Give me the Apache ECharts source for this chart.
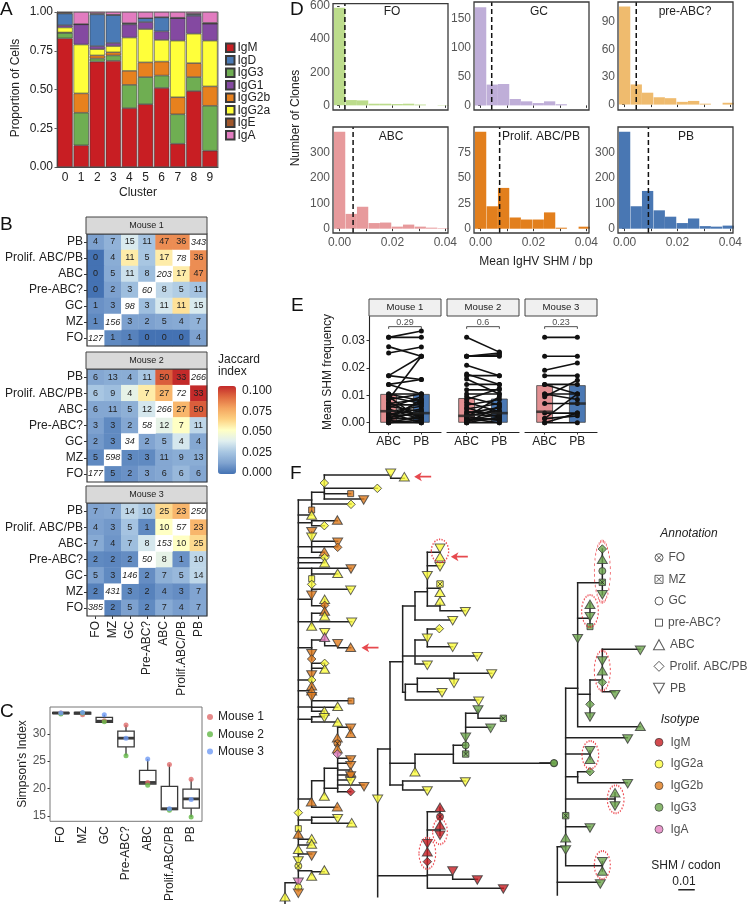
<!DOCTYPE html>
<html>
<head>
<meta charset="utf-8">
<style>html,body{margin:0;padding:0;background:#fff}#chart{width:748px;height:904px}</style>
<script src="https://cdn.jsdelivr.net/npm/echarts@6/dist/echarts.min.js"></script>
</head>
<body>
<div id="chart"></div>
<script>
// ---- panel A
const clusters = ["0","1","2","3","4","5","6","7","8","9"];
const stackOrder = ["IgM","IgG3","IgG2b","IgG2a","IgG1","IgD","IgE","IgA"];
const legendOrder = ["IgM","IgD","IgG3","IgG1","IgG2b","IgG2a","IgE","IgA"];
const igM   = [.83,.14,.68,.685,.38,.405,.51,.15,.49,.105];
const igG3  = [.035,.21,.02,.035,.15,.175,.08,.19,.09,.29];
const igG2b = [.003,.125,.02,.02,.09,.095,.09,.11,.09,.125];
const igG2a = [.032,.315,.04,.04,.215,.215,.14,.365,.19,.295];
const igG1  = [.015,.13,.02,.02,.085,.045,.055,.145,.115,.11];
const igD   = [.075,0,.205,.18,.005,.025,.09,0,.01,0];
const igE   = [.005,.002,.005,.002,.003,0,.002,.003,.003,.005];
const igA   = [.005,.078,.01,.018,.072,.04,.033,.037,.012,.07];

// ---- panel B, rows run PB -> FO, columns FO -> PB
const cellTypes = ["FO","MZ","GC","Pre-ABC?","ABC","Prolif. ABC/PB","PB"];
const cellTypesX = ["FO","MZ","GC","Pre-ABC?","ABC","Prolif.ABC/PB","PB"];
const counts1 = [[4,7,15,11,47,36,343],[0,4,11,5,17,78,36],[0,5,11,8,203,17,47],[0,2,3,60,8,5,11],[1,3,98,3,11,11,15],[1,156,3,2,5,4,7],[127,1,1,0,0,0,4]];
const counts2 = [[6,13,4,11,50,33,266],[6,9,4,7,27,72,33],[6,11,5,12,266,27,50],[3,3,2,58,12,7,11],[2,3,34,2,5,4,4],[5,598,3,3,11,9,13],[177,5,2,3,6,6,6]];
const counts3 = [[7,7,14,10,25,23,250],[4,3,5,1,10,57,23],[7,4,7,8,153,10,25],[2,2,2,50,8,1,10],[5,3,146,2,7,5,14],[2,431,3,2,4,3,7],[385,2,5,2,7,4,7]];
const jaccard1 = [[.012,.018,.036,.024,.08,.08,0],[0,.016,.055,.025,.055,0,.08],[0,.015,.033,.022,0,.055,.08],[0,.012,.022,0,.03,.027,.024],[.008,.01,0,.022,.035,.058,.036],[.006,0,.012,.012,.014,.015,.018],[0,.006,.004,0,0,0,.012]];
const jaccard2 = [[.014,.016,.016,.025,.09,.1,0],[.025,.022,.04,.055,.07,0,.1],[.014,.014,.017,.035,0,.07,.09],[.012,.006,.014,0,.04,.05,.03],[.01,.006,0,.013,.018,.035,.014],[.006,0,.006,.006,.014,.016,.016],[0,.006,.008,.012,.014,.02,.014]];
const jaccard3 = [[.013,.014,.03,.026,.06,.07,0],[.012,.01,.024,.006,.05,0,.07],[.015,.009,.022,.035,0,.05,.06],[.006,.005,.007,0,.04,.008,.03],[.012,.006,0,.007,.017,.02,.03],[.004,0,.006,.004,.009,.007,.013],[0,.004,.012,.006,.015,.011,.014]];

// ---- panel C: index, min, q1, median, q3, max
const simpsonBoxes = [[0,33.6,33.7,33.8,33.9,33.9],[1,33.5,33.6,33.8,33.9,33.9],[2,32.1,32.1,32.3,33,33.5],[3,26.05,27.6,29.2,30.5,31.6],[4,20.65,20.8,21.1,23.3,25.4],[5,16,16.15,16.3,20.4,24.4],[6,14.8,16.4,18.1,19.9,21.7]];
const simpsonMouse1 = [33.8,33.5,32.4,31.6,21.1,24.4,21.7];
const simpsonMouse2 = [33.6,33.8,32.2,26,20.6,16,14.8];
const simpsonMouse3 = [33.8,33.9,33.5,29.2,25.4,16.3,18];

// ---- panel D
const binCenters = [0,.0044,.0087,.0131,.0174,.0218,.0261,.0305,.0348,.0392];
const clonesFO = [590,32,30,10,10,8,10,5,0,2];
const clonesGC = [170,36,37,11,7,4,7,2,0,0];
const clonesPreABC = [107,22,13,8,7,3,4,1,0,2];
const clonesABC = [380,58,86,22,24,8,16,8,4,2];
const clonesProlif = [95,22,40,11,9,9,16,1,0,2];
const clonesPB = [380,88,148,72,47,22,40,10,8,12];

// ---- panel E: pairs of [ABC, PB]
const pairsMouse1 = [[.0312,.0335],[.0312,.0312],[.0278,.0243],[.0255,.0277],[.0172,.0243],[.0172,.0158],[.014,.0158],[.014,.0105],[.0085,.0243],[.0105,.0105],[.0095,.007],[.0085,.0105],[.0075,.002],[.007,.0085],[.006,.004],[.0055,.0095],[.0045,.003],[.004,.006],[.0035,0],[.003,.005],[.0025,.0075],[.002,.0035],[.0015,.0015],[.001,.0045],[.0008,0],[0,.0025],[0,0],[0,.001],[.0105,.008],[.0065,.0065],[.005,.0012],[.0028,.0028],[.0012,.0085],[.0095,.001]];
const pairsMouse2 = [[.0312,.0258],[.0243,.0243],[.0243,.0255],[.0243,.0248],[.021,.0172],[.0178,.014],[.0172,.0172],[.016,.0105],[.014,.014],[.012,.012],[.0105,.0105],[.0095,.0065],[.0085,.0125],[.0075,.004],[.0065,.0085],[.0055,.002],[.005,.007],[.004,.0035],[.0035,.0055],[.0025,.0045],[.002,.0095],[.0015,0],[.001,.003],[0,.002],[0,0],[0,.006],[.0012,.0012],[.0022,.0008],[.0008,.0018],[.003,.0025]];
const pairsMouse3 = [[.0312,.0312],[.0243,.0243],[.0192,.0218],[.0172,.0172],[.014,.0105],[.014,.014],[.0105,.0105],[.0105,.0085],[.0095,.0155],[.007,.007],[.0035,.0035],[.0015,.0105],[0,.0035],[0,0],[.0015,.0025]];
const boxTops = [[.0105,.0105],[.009,.0088],[.0137,.0137]];
const boxMedians = [[.0042,.0035],[.0025,.0035],[.004,.007]];
const pValues = ["0.29","0.6","0.23"];

// ---- panel F, tree 1 in units of the left crop
const treeEdges1 = [
  [[85,60],[85,1232]],[[85,60],[125,60]],[[163,-15],[362,-15],[362,-5],[403,-5]],[[163,-15],[163,57]],[[125,37],[125,95]],[[125,37],[163,37]],
  [[125,72],[243,72]],[[163,25],[322,25]],[[163,41],[242,41]],[[163,57],[281,57]],[[85,105],[125,105]],[[85,128],[125,128]],
  [[125,122],[202,122]],[[125,122],[125,137],[163,137]],[[85,200],[125,200]],[[125,155],[125,217]],[[125,184],[203,184]],[[125,200],[203,200]],
  [[125,217],[163,217]],[[85,233],[164,233]],[[85,248],[164,248]],[[85,265],[243,265]],[[125,265],[125,345]],[[125,282],[203,282]],[[125,328],[242,328]],
  [[85,358],[125,358]],[[125,346],[125,377],[164,377]],[[164,358],[164,408]],[[85,425],[245,425]],[[125,400],[164,400]],[[125,400],[125,437]],
  [[85,503],[125,503]],[[125,480],[125,540]],[[125,480],[163,480]],[[164,458],[164,497],[203,497],[203,503],[242,503]],
  [[125,550],[164,550]],[[125,565],[164,565]],[[125,550],[125,650]],[[85,600],[125,600]],[[85,632],[125,632]],
  [[85,681],[125,681]],[[125,650],[125,694]],[[125,662],[243,662]],[[125,682],[203,682]],[[125,694],[163,694]],[[163,693],[163,713]],
  [[85,718],[125,718]],[[125,710],[125,726]],[[125,710],[163,710]],[[125,726],[203,726]],
  [[85,957],[125,957]],[[125,902],[125,982],[203,982]],[[125,902],[163,902]],[[163,865],[163,945]],[[163,865],[203,865]],[[203,742],[203,935]],
  [[203,742],[242,742],[242,760]],[[203,835],[242,835]],[[203,850],[242,850]],[[203,870],[242,870]],[[203,885],[242,885]],[[203,900],[242,900]],
  [[163,925],[203,925]],[[203,915],[282,915]],[[203,935],[242,935]],
  [[85,1020],[125,1020]],[[125,1012],[125,1030]],[[125,1012],[203,1012]],[[125,1030],[245,1030]],[[85,1078],[125,1078]],[[85,1095],[125,1095]],
  [[85,1122],[125,1122]],[[85,1172],[125,1172],[125,1185]],[[125,1175],[163,1175]],[[85,1208],[45,1208],[45,1272]]
];
const treeNodes1 = [
  [362,-20,"PB","Y"],[403,-10,"ABC","Y"],[163,9,"PRO","Y"],[322,25,"PRO","Y"],[242,41,"PRE","O"],[281,60,"PB","O"],[243,73,"PRO","Y"],[125,90,"PRE","O"],[125,105,"ABC","Y"],
  [202,120,"ABC","O"],[163,137,"PRO","Y"],[125,155,"PB","O"],[125,172,"PB","Y"],[203,187,"PB","O"],[203,202,"PRO","O"],[163,215,"ABC","O"],[164,233,"PRO","Y"],[164,248,"ABC","Y"],
  [243,267,"PB","O"],[203,280,"ABC","Y"],[125,296,"PRE","Y"],[125,313,"PRO","Y"],[242,331,"PB","Y"],[125,346,"PB","O"],[164,358,"ABC","Y"],[164,376,"PRO","O"],[164,393,"ABC","O"],[164,408,"ABC","Y"],
  [245,427,"PB","Y"],[125,438,"ABC","Y"],[164,458,"PB","Y"],[164,472,"ABC","P"],[203,491,"PB","O"],[242,502,"ABC","O"],[125,521,"PB","O"],[125,537,"PRO","O"],[164,550,"PRO","Y"],[164,567,"ABC","Y"],
  [125,585,"PB","O"],[125,600,"PRO","Y"],[125,617,"ABC","O"],[125,632,"ABC","O"],[125,650,"PB","O"],[243,663,"PRE","O"],[203,679,"ABC","Y"],[163,693,"ABC","Y"],[163,713,"PB","Y"],[203,726,"ABC","Y"],
  [242,745,"PB","O"],[242,760,"ABC","O"],[202,773,"ABC","O"],[202,790,"FO","O"],[202,806,"ABC","O"],[202,822,"PRO","P"],[242,840,"PB","O"],[242,857,"PB","O"],[242,877,"ABC","O"],[242,888,"PB","O"],[242,905,"PB","Y"],
  [282,920,"PB","O"],[242,935,"PRO","R"],[163,948,"ABC","Y"],[124,965,"ABC","O"],[202,980,"ABC","O"],[85,998,"PRO","Y"],[203,1016,"PB","Y"],[245,1028,"ABC","Y"],[85,1046,"PRE","Y"],[85,1062,"ABC","O"],
  [125,1076,"ABC","Y"],[125,1092,"ABC","Y"],[85,1108,"ABC","Y"],[125,1128,"PB","O"],[85,1143,"PB","Y"],[85,1158,"FO","Y"],[163,1170,"ABC","Y"],[125,1188,"ABC","Y"],[85,1207,"PB","P"],[85,1222,"GC","Y"],[85,1240,"PB","O"],[45,1250,"ABC","Y"]
];
// tree 2, units of the middle crop
const treeEdges2 = [
  [[23,687],[23,1130]],[[23,687],[60,687]],[[60,425],[60,795]],[[60,425],[98,425]],[[98,258],[98,517]],[[98,258],[135,258]],[[135,215],[135,300]],[[135,215],[172,215]],[[172,97],[172,258]],
  [[172,97],[210,97]],[[172,137],[210,137]],[[172,205],[210,205]],[[172,258],[210,258]],[[210,250],[210,272],[286,272]],[[135,300],[248,300]],
  [[98,408],[322,408]],[[135,360],[172,360]],[[135,360],[135,432],[172,432]],[[172,327],[172,380]],[[172,327],[208,327]],[[172,380],[248,380]],
  [[98,517],[106,517]],[[106,493],[106,540],[326,540]],[[106,493],[142,493]],[[142,475],[142,515],[216,515]],[[142,475],[252,475]],[[252,460],[252,490]],[[252,460],[365,460]],
  [[60,730],[135,730]],[[135,703],[135,755]],[[135,703],[250,703]],[[250,676],[250,730],[552,730]],[[250,676],[287,676]],[[287,580],[287,700]],[[287,580],[324,580]],[[287,622],[362,622]],[[324,570],[324,595],[400,595]],
  [[60,795],[98,795]],[[98,783],[98,810],[172,810]],[[98,783],[286,783]],
  [[23,1067],[172,1067]],[[172,875],[172,1105],[400,1105]],[[172,875],[210,875]],[[210,862],[210,946]],[[172,930],[210,930]],[[172,1065],[248,1065],[248,1078],[322,1078]]
];
const treeNodes2 = [
  [210,85,"PB","Y"],[210,110,"ABC","Y"],[210,140,"PB","Y"],[172,167,"PB","Y"],[210,192,"MZ","Y"],[210,217,"ABC","Y"],[210,243,"ABC","Y"],[286,275,"PB","Y"],[248,302,"PB","Y"],
  [208,326,"PRO","Y"],[172,355,"PB","Y"],[248,382,"PB","Y"],[322,410,"PB","Y"],[172,436,"PB","Y"],[365,462,"PB","Y"],[252,490,"PB","Y"],[216,518,"PB","Y"],[326,544,"PB","Y"],
  [324,570,"PB","G"],[400,595,"MZ","G"],[362,625,"PB","G"],[287,652,"PB","G"],[287,676,"GC","G"],[287,702,"MZ","G"],[552,730,"GC","G"],[135,755,"ABC","Y"],[286,786,"PB","Y"],[172,813,"PB","Y"],[23,838,"PB","Y"],
  [210,862,"ABC","R"],[210,890,"FO","R"],[210,915,"ABC","R"],[210,946,"PB","R"],[172,971,"PB","R"],[172,995,"ABC","R"],[172,1025,"PRO","R"],[248,1053,"PB","R"],[322,1080,"PB","R"],[400,1107,"PB","R"]
];
// tree 3, units of the right crop
const treeEdges3 = [
  [[0,789],[42,789]],[[77,565],[77,1097],[187,1097]],[[77,565],[113,565]],[[113,248],[113,680],[300,680]],[[113,248],[187,248]],[[187,147],[187,284]],[[113,355],[150,355]],[[150,310],[150,380]],
  [[113,583],[150,583]],[[150,540],[150,650]],[[150,540],[187,540]],[[187,448],[187,575],[225,575]],[[187,448],[300,448]],
  [[77,713],[262,713]],[[77,762],[150,762]],[[150,752],[150,778]],[[77,830],[113,830]],[[113,815],[113,848],[262,848]],[[113,815],[150,815]],[[77,897],[225,897]],[[225,878],[225,918]],
  [[77,980],[150,980]],[[52,1040],[77,1040]],[[187,1085],[187,1113]],[[52,1040],[52,1185]],[[52,1147],[180,1147]],[[417,1169],[462,1169]]
];
const treeNodes3 = [
  [42,789,"GC","G"],[187,147,"PRO","G"],[187,178,"ABC","G"],[187,213,"GC","G"],[187,247,"MZ","G"],[187,284,"PB","G"],[150,313,"ABC","G"],[150,350,"PB","G"],[150,380,"PRE","G"],[113,416,"PB","G"],
  [301,451,"PB","G"],[187,483,"PB","G"],[187,512,"ABC","G"],[187,547,"PRO","G"],[225,584,"PB","G"],[150,613,"PRO","G"],[150,651,"PB","G"],[301,679,"ABC","G"],[263,717,"PB","G"],
  [150,752,"PB","G"],[150,778,"ABC","G"],[150,815,"PRO","G"],[263,851,"PB","G"],[225,878,"ABC","G"],[225,918,"PB","G"],[77,947,"MZ","G"],[150,984,"PB","G"],[77,1013,"ABC","G"],[77,1050,"PB","G"],
  [187,1085,"PB","G"],[187,1113,"ABC","G"],[181,1152,"PB","G"]
];
const ellipses2 = [[210,93,52,70],[210,935,44,76],[172,1000,50,94]];
const ellipses3 = [[187,215,48,184],[150,333,50,96],[187,512,48,120],[151,765,50,84],[227,898,50,84],[187,1095,48,84]];
const arrows1 = [[458,-10],[300,503]];
const arrows2 = [[268,110]];
const annotationKeys = [[357,173,"FO","FO"],[357,238,"MZ","MZ"],[357,303,"GC","GC"],[357,368,"PRE","pre-ABC?"],[357,434,"ABC","ABC"],[357,499,"PRO","Prolif. ABC/PB"],[357,565,"PB","PB"]];
const isotypeKeys = [[357,727,"R","IgM"],[357,792,"Y","IgG2a"],[357,857,"O","IgG2b"],[357,922,"G","IgG3"],[357,988,"P","IgA"]];

const FONT = '"Liberation Sans", Arial, sans-serif';
const INK = "#222";
const SIZE = 12;
const stackColors = { IgM:"#c81e23", IgD:"#4a7ab5", IgG3:"#6fae52", IgG1:"#8449a1", IgG2b:"#e7811e", IgG2a:"#ffff3a", IgE:"#a0562a", IgA:"#e27cc0" };
const stackValues = { IgM:igM, IgG3:igG3, IgG2b:igG2b, IgG2a:igG2a, IgG1:igG1, IgD:igD, IgE:igE, IgA:igA };
const isoColors = { R:"#c81e23", Y:"#fdfd3c", O:"#e07b1c", G:"#6da64c", P:"#e581c0", N:"#fff" };
const jaccardRamp = ["#4472b3","#7fa3d0","#a8c6e2","#e0eff0","#ffffc4","#fdd080","#f4a45f","#e06b40","#c32a2a"];

const grids = [], xAxes = [], yAxes = [], series = [], graphics = [], legends = [];

function addGrid(g, x, y) {
  grids.push(Object.assign({ containLabel:false }, g));
  const i = grids.length - 1;
  xAxes.push(Object.assign({ gridIndex:i }, x));
  yAxes.push(Object.assign({ gridIndex:i }, y));
  return i;
}
function txt(x, y, text, size, extra) {
  extra = extra || {};
  graphics.push({ type:"text", x:x, y:y, rotation:extra.rotate || 0, z:50, style:{
    text:text, fill:extra.fill || INK, font:(extra.italic ? "italic " : "") + size + "px " + FONT,
    align:extra.align || "center", verticalAlign:"middle" } });
}
function strip(x, y, w, h, text, fill, size) {
  graphics.push({ type:"rect", shape:{x:x,y:y,width:w,height:h}, z:40, style:{fill:fill, stroke:"#444", lineWidth:1} });
  txt(x + w/2, y + h/2, text, size);
}
const valueTick = { length:2.5, lineStyle:{color:"#333",width:0.8} };

// A
{
  const g = addGrid({ left:57, top:12, width:161, height:155, show:true, borderColor:"#777", borderWidth:1, backgroundColor:"transparent", z:1 },
    { type:"category", data:clusters, axisTick:Object.assign({alignWithLabel:true},valueTick), axisLine:{lineStyle:{color:"#222",width:1}},
      axisLabel:{fontFamily:FONT,fontSize:SIZE,color:INK,margin:5} },
    { type:"value", min:0, max:1, interval:.25, splitLine:{show:false}, axisTick:Object.assign({show:true},valueTick), axisLine:{show:true,lineStyle:{color:"#222",width:1}},
      axisLabel:{fontFamily:FONT,fontSize:SIZE,color:INK,margin:4,formatter:v=>v.toFixed(2)} });
  stackOrder.forEach(name => series.push({ type:"bar", name:name, stack:"a", xAxisIndex:g, yAxisIndex:g, data:stackValues[name], barWidth:15.3,
    itemStyle:{color:stackColors[name],borderColor:"#3a3a3a",borderWidth:0.6} }));
  legends.push({ data:legendOrder, orient:"vertical", left:225, top:41.5, icon:"rect", itemWidth:8.5, itemHeight:8.5, itemGap:0, padding:0, textStyle:{fontFamily:FONT,fontSize:SIZE,lineHeight:12.5,color:INK,padding:[0,0,0,-2]} });
  txt(16, 88, "Proportion of Cells", SIZE, {rotate:Math.PI/2});
  txt(138, 193, "Cluster", SIZE);
}

// B
const heatIdx = [], diagIdx = [];
[[counts1,jaccard1,"Mouse 1",217,234,112,false],[counts2,jaccard2,"Mouse 2",352,369,113,false],[counts3,jaccard3,"Mouse 3",486,503,113,true]].forEach(p => {
  const g = addGrid({ left:87, top:p[4], width:120, height:p[5], show:true, borderColor:"#333", borderWidth:1.2, backgroundColor:"transparent", z:10 },
    { type:"category", data:cellTypesX, axisLine:{show:false}, axisTick:{show:p[6],alignWithLabel:true,length:3,lineStyle:{color:"#333"}},
      axisLabel:{show:p[6],rotate:90,fontFamily:FONT,fontSize:SIZE,color:INK,margin:5,interval:0} },
    { type:"category", data:cellTypes, axisLine:{show:false}, axisTick:{show:true,alignWithLabel:true,length:3,lineStyle:{color:"#333"}},
      axisLabel:{fontFamily:FONT,fontSize:SIZE,color:INK,margin:4,interval:0} });
  const off = [], diag = [];
  p[0].forEach((row,r) => row.forEach((c,x) => { (x === 6 - r ? diag : off).push([x, 6 - r, p[1][r][x], c]); }));
  series.push({ type:"heatmap", xAxisIndex:g, yAxisIndex:g, data:off, z:2, label:{show:true,fontFamily:FONT,fontSize:9,color:"#222",formatter:a=>String(a.data[3])} });
  heatIdx.push(series.length - 1);
  series.push({ type:"heatmap", xAxisIndex:g, yAxisIndex:g, data:diag, z:2, label:{show:true,fontFamily:FONT,fontSize:9,fontStyle:"italic",color:"#222",formatter:a=>String(a.data[3])} });
  diagIdx.push(series.length - 1);
  strip(86, p[3], 121, 17, p[2], "#d9d9d9", 9);
});
{
  const g = addGrid({ left:218, top:391, width:18, height:81.7 },
    { type:"value", show:false, min:0, max:1 },
    { type:"value", position:"right", min:0, max:.1, interval:.025, z:10, splitLine:{show:false}, axisLine:{show:false},
      axisTick:{show:true,inside:true,length:3.5,lineStyle:{color:"#fff",width:0.8}},
      axisLabel:{fontFamily:FONT,fontSize:SIZE,color:INK,margin:6,formatter:v=>v.toFixed(3)} });
  series.push({ type:"scatter", xAxisIndex:g, yAxisIndex:g, data:[] });
  txt(218, 360, "Jaccard", SIZE, {align:"left"});
  txt(218, 372, "index", SIZE, {align:"left"});
}

// C
{
  const g = addGrid({ left:50, top:707, width:152, height:115, show:true, borderColor:"#777", borderWidth:1, backgroundColor:"transparent", z:1 },
    { type:"category", data:cellTypesX, axisLine:{show:false}, axisTick:{alignWithLabel:true,length:2.5,lineStyle:{color:"#333"}},
      axisLabel:{rotate:90,fontFamily:FONT,fontSize:SIZE,color:INK,margin:5,interval:0} },
    { type:"value", min:14, max:34.9, splitLine:{show:false}, axisLine:{show:false}, axisTick:{show:true,length:2.5,customValues:[15,20,25,30],lineStyle:{color:"#333"}},
      axisLabel:{customValues:[15,20,25,30],fontFamily:FONT,fontSize:SIZE,color:"#555",margin:4} });
  series.push({ type:"custom", xAxisIndex:g, yAxisIndex:g, data:simpsonBoxes, z:2, encode:{x:0,y:[1,2,3,4,5]},
    renderItem:function (params, api) {
      const cx = api.coord([api.value(0), 0])[0];
      const y = i => api.coord([api.value(0), api.value(i)])[1];
      const hw = 8.2, ink = { stroke:"#3a3a3a", lineWidth:1.3, fill:"#fff" };
      return { type:"group", children:[
        { type:"line", shape:{x1:cx,y1:y(1),x2:cx,y2:y(5)}, style:ink },
        { type:"rect", shape:{x:cx-hw,y:y(4),width:2*hw,height:y(2)-y(4)}, style:ink },
        { type:"line", shape:{x1:cx-hw,y1:y(3),x2:cx+hw,y2:y(3)}, style:{stroke:"#3a3a3a",lineWidth:2.8} }
      ] };
    } });
  [["Mouse 1",simpsonMouse1,"#e06c6c"],["Mouse 2",simpsonMouse2,"#62b845"],["Mouse 3",simpsonMouse3,"#6f9bf5"]].forEach(m => {
    series.push({ type:"scatter", name:m[0], xAxisIndex:g, yAxisIndex:g, data:m[1].map((v,i)=>[i,v]), symbol:"circle", symbolSize:5, itemStyle:{color:m[2]}, z:4 });
  });
  legends.push({ data:["Mouse 1","Mouse 2","Mouse 3"], orient:"vertical", left:207, top:711, icon:"circle", itemWidth:6, itemHeight:6, itemGap:5.3, padding:0, textStyle:{fontFamily:FONT,fontSize:SIZE,lineHeight:12,color:INK} });
  txt(23, 764, "Simpson's Index", SIZE, {rotate:Math.PI/2});
}

// D
[
  ["FO",clonesFO,"#bcdc8c",333,2,108,-28,614,[0,200,400,600],.002,false,392],
  ["GC",clonesGC,"#bfaed8",474,2,108,-8,179,[0,50,100,150],.0042,false,539],
  ["pre-ABC?",clonesPreABC,"#efbb6e",618,2,108,-5.9,112,[0,30,60,90],.0044,false,685],
  ["ABC",clonesABC,"#e79a9c",333,127,106,-17,399,[0,100,200,300],.0051,true,391],
  ["Prolif. ABC/PB",clonesProlif,"#e27f1d",474,127,106,-4.2,99.7,[0,25,50,75],.0072,true,541],
  ["PB",clonesPB,"#4977b3",618,127,106,-17,399,[0,100,200,300],.009,true,686]
].forEach(p => {
  const g = addGrid({ left:p[3], top:p[4], width:115, height:p[5], show:true, borderColor:"#3a3a3a", borderWidth:1.3, backgroundColor:"transparent", z:10 },
    { type:"value", min:-.0025, max:.041, splitLine:{show:false}, axisLine:{show:false},
      axisTick:{show:true,length:2.5,customValues:[0,.01,.02,.03,.04],lineStyle:{color:"#333"}},
      axisLabel:{show:p[10],customValues:[0,.02,.04],fontFamily:FONT,fontSize:SIZE,color:"#555",margin:4,hideOverlap:false,alignMinLabel:"center",alignMaxLabel:"center",formatter:v=>v.toFixed(2)} },
    { type:"value", min:p[6], max:p[7], splitLine:{show:false}, axisLine:{show:false},
      axisTick:{show:true,length:2.5,customValues:p[8],lineStyle:{color:"#333"}},
      axisLabel:{customValues:p[8],fontFamily:FONT,fontSize:SIZE,color:"#555",margin:3} });
  series.push({ type:"bar", xAxisIndex:g, yAxisIndex:g, data:binCenters.map((c,i)=>[c,p[1][i]]), barWidth:11.3, itemStyle:{color:p[2]}, z:2 });
  series.push({ type:"line", xAxisIndex:g, yAxisIndex:g, data:[[p[9],p[6]],[p[9],p[7]]], symbol:"none", lineStyle:{color:"#111",type:[5,3],width:1.5}, z:3 });
  txt(p[11], p[4] + 10, p[0], SIZE);
});
txt(296, 118, "Number of Clones", SIZE, {rotate:Math.PI/2});
txt(536, 262, "Mean IgHV SHM / bp", SIZE);

// E
[[pairsMouse1,"Mouse 1",369],[pairsMouse2,"Mouse 2",447],[pairsMouse3,"Mouse 3",525]].forEach((p,k) => {
  const g = addGrid({ left:p[2], top:316, width:72, height:116 },
    { type:"value", min:.4, max:2.6, splitLine:{show:false}, axisLine:{show:true,onZero:false,lineStyle:{color:"#222",width:1.1}},
      axisTick:{show:true,length:2.5,customValues:[1,2],lineStyle:{color:"#333"}},
      axisLabel:{customValues:[1,2],fontFamily:FONT,fontSize:SIZE,color:INK,margin:4,formatter:v=>v===1?"ABC":"PB"} },
    { type:"value", show:k === 0, min:-.0034, max:.039, splitLine:{show:false}, axisLine:{show:true,onZero:false,lineStyle:{color:"#222",width:1.1}},
      axisTick:{show:true,length:2.5,customValues:[0,.01,.02,.03],lineStyle:{color:"#333"}},
      axisLabel:{customValues:[0,.01,.02,.03],fontFamily:FONT,fontSize:SIZE,color:INK,margin:4,formatter:v=>v.toFixed(2)} });
  series.push({ type:"bar", xAxisIndex:g, yAxisIndex:g, data:[[1,boxTops[k][0],0]], barWidth:16.7, itemStyle:{color:"#e39092",borderColor:"#444",borderWidth:0.8}, z:1 });
  series.push({ type:"bar", xAxisIndex:g, yAxisIndex:g, data:[[2,boxTops[k][1],0]], barWidth:16.7, barGap:"-100%", itemStyle:{color:"#4a78b4",borderColor:"#444",borderWidth:0.8}, z:1 });
  p[0].forEach(pair => series.push({ type:"line", xAxisIndex:g, yAxisIndex:g, data:[[1,pair[0]],[2,pair[1]]], symbol:"circle", symbolSize:5, showSymbol:true,
    lineStyle:{color:"#111",width:1.6}, itemStyle:{color:"#111"}, z:3 }));
  series.push({ type:"scatter", xAxisIndex:g, yAxisIndex:g, data:[[1,boxMedians[k][0]],[2,boxMedians[k][1]]], symbol:"rect", symbolSize:[16.7,2.6], itemStyle:{color:"#222"}, z:4 });
  series.push({ type:"line", xAxisIndex:g, yAxisIndex:g, data:[[1,.0343],[1,.0351],[2,.0351],[2,.0343]], symbol:"none", lineStyle:{color:"#222",width:0.8}, z:4 });
  series.push({ type:"scatter", xAxisIndex:g, yAxisIndex:g, data:[[1.5,.0367]], symbolSize:0, z:5,
    label:{show:true,position:"inside",fontFamily:FONT,fontSize:9,color:INK,formatter:pValues[k]} });
  strip(p[2], 299, 72, 17, p[1], "#f0f0f0", 9.6);
});
txt(328, 372, "Mean SHM frequency", SIZE, {rotate:Math.PI/2});

// F
const shapeOf = { ABC:"triangle", PB:"triangle", PRO:"diamond", PRE:"rect", GC:"circle", FO:"circle", MZ:"rect" };
const sizeOf = { ABC:[10,8.5], PB:[10,8.5], PRO:[8.5,8.5], PRE:[6,6], GC:[7,7], FO:[7,7], MZ:[6.4,6.4] };
const crossPath = "path://M0 0L10 10M10 0L0 10";
const ellipsePath = "path://M0 10A10 10 0 1 1 20 10A10 10 0 1 1 0 10Z";
const arrowPath = "path://M0 5L9 0L7 4L20 4L20 6L7 6L9 10Z";
function addNodes(g, nodes) {
  series.push({ type:"scatter", xAxisIndex:g, yAxisIndex:g, data:nodes, clip:false, z:4,
    symbol:v=>shapeOf[v[2]], symbolSize:v=>sizeOf[v[2]], symbolRotate:v=>v[2]==="PB"?180:0,
    itemStyle:{ color:a=>isoColors[a.data[3]], borderColor:"#3a3a3a", borderWidth:1 } });
  const crossed = nodes.filter(n => n[2] === "FO" || n[2] === "MZ");
  series.push({ type:"scatter", xAxisIndex:g, yAxisIndex:g, data:crossed, clip:false, z:5, symbol:crossPath, symbolSize:4.6,
    itemStyle:{ color:"transparent", borderColor:"#222", borderWidth:0.9 } });
}
function addTree(g, edges, nodes, ellipses, arrows) {
  series.push({ type:"lines", coordinateSystem:"cartesian2d", xAxisIndex:g, yAxisIndex:g, polyline:true, silent:true, z:2,
    data:edges.map(e => ({coords:e})), lineStyle:{color:"#222",width:1.5,opacity:1,cap:"square"} });
  addNodes(g, nodes);
  if (ellipses) series.push({ type:"scatter", xAxisIndex:g, yAxisIndex:g, data:ellipses, clip:false, z:6, symbol:ellipsePath, symbolKeepAspect:false,
    symbolSize:v=>[v[2]/3, v[3]/3], itemStyle:{color:"transparent",borderColor:"#e8222a",borderWidth:1.5,borderType:[1.4,1.5]} });
  if (arrows) series.push({ type:"scatter", xAxisIndex:g, yAxisIndex:g, data:arrows, clip:false, z:6, symbol:arrowPath, symbolSize:[17,9], itemStyle:{color:"#e01c22"} });
}
const hiddenAxis = (lo, hi, inv) => ({ type:"value", show:false, min:lo, max:hi, inverse:!!inv, splitLine:{show:false} });
const t1 = addGrid({ left:270, top:460, width:160, height:444 }, hiddenAxis(0,480), hiddenAxis(-60,1272,true));
const t2 = addGrid({ left:370, top:520, width:200, height:380 }, hiddenAxis(0,600), hiddenAxis(0,1140,true));
const t3 = addGrid({ left:540, top:500, width:208, height:400 }, hiddenAxis(0,624), hiddenAxis(0,1200,true));
addTree(t1, treeEdges1, treeNodes1, null, arrows1);
addTree(t2, treeEdges2, treeNodes2, ellipses2, arrows2);
addTree(t3, treeEdges3, treeNodes3, ellipses3, null);

// keys for F
const keyLabel = { show:true, position:"right", distance:5, fontFamily:FONT, fontSize:SIZE, color:INK };
series.push({ type:"scatter", xAxisIndex:t3, yAxisIndex:t3, data:annotationKeys, clip:false, z:4,
  symbol:v=>shapeOf[v[2]], symbolSize:v=>v[2]==="ABC"||v[2]==="PB"?[11,10]:v[2]==="PRO"?[10,10]:v[2]==="PRE"?[7,7]:[8,8], symbolRotate:v=>v[2]==="PB"?180:0,
  itemStyle:{color:"#fff",borderColor:"#333",borderWidth:1}, label:Object.assign({},keyLabel,{formatter:a=>a.data[3]}) });
series.push({ type:"scatter", xAxisIndex:t3, yAxisIndex:t3, data:annotationKeys.slice(0,2), clip:false, z:5, symbol:crossPath, symbolSize:5,
  itemStyle:{color:"transparent",borderColor:"#333",borderWidth:1} });
series.push({ type:"scatter", xAxisIndex:t3, yAxisIndex:t3, data:isotypeKeys, clip:false, z:4, symbol:"circle", symbolSize:8,
  itemStyle:{color:a=>isoColors[a.data[2]],borderColor:"#333",borderWidth:0.8}, label:Object.assign({},keyLabel,{distance:7,formatter:a=>a.data[3]}) });
txt(689, 534, "Annotation", SIZE, {italic:true});
txt(680, 720, "Isotype", SIZE, {italic:true});
txt(686, 866, "SHM / codon", SIZE);
txt(684, 882, "0.01", SIZE);

// panel letters
[["A",0,10],["B",0,225],["C",0,712],["D",290,10],["E",291,306],["F",290,474]].forEach(l => txt(l[1], l[2], l[0], 19, {align:"left",fill:"#111"}));

const chart = echarts.init(document.getElementById("chart"), null, { renderer:"canvas" });
chart.setOption({
  animation:false,
  backgroundColor:"#fff",
  textStyle:{fontFamily:FONT},
  grid:grids, xAxis:xAxes, yAxis:yAxes, legend:legends, series:series,
  visualMap:[
    { type:"continuous", min:0, max:.1, dimension:2, seriesIndex:heatIdx, left:218, top:386, itemWidth:18, itemHeight:88, calculable:false, padding:0, text:null, inRange:{color:jaccardRamp} },
    { type:"continuous", show:false, min:0, max:1, dimension:2, seriesIndex:diagIdx, inRange:{color:["#fff","#fff"]} }
  ],
  graphic:{ elements:graphics }
});
</script>
</body>
</html>
